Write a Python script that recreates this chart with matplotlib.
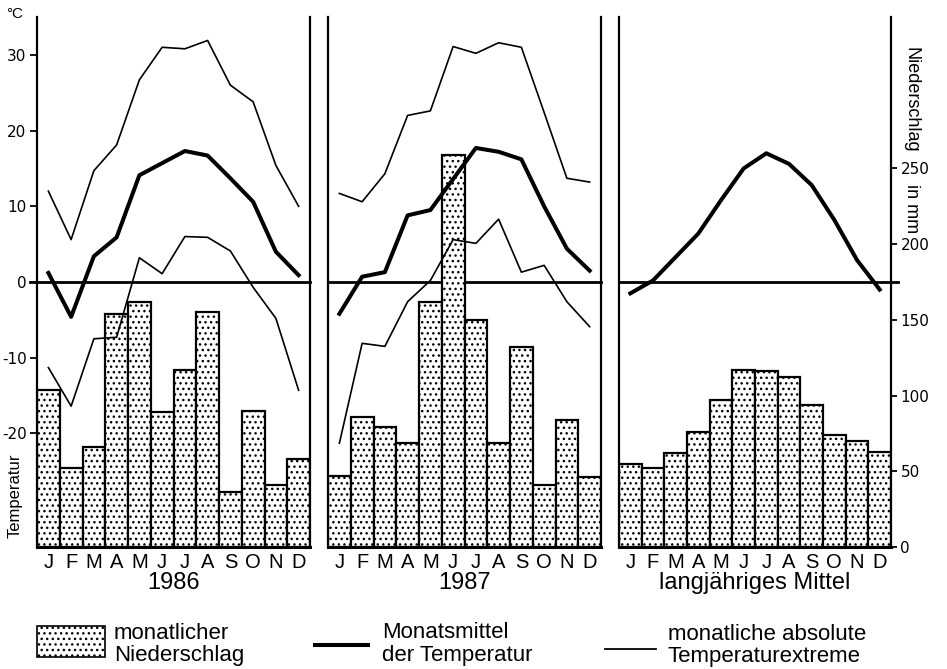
import numpy as np
import matplotlib
matplotlib.use("Agg")
import matplotlib.pyplot as plt
from matplotlib import transforms
from matplotlib.patches import Rectangle
from matplotlib.lines import Line2D

plt.rcParams['font.family'] = ['Liberation Sans', 'DejaVu Sans']
plt.rcParams['hatch.linewidth'] = 1.0

months = ["J", "F", "M", "A", "M", "J", "J", "A", "S", "O", "N", "D"]

# precipitation in mm, temperatures in deg C
rain_1986 = [104, 52, 66, 154, 162, 89, 117, 155, 36, 90, 41, 58]
tmean_1986 = [1.2, -4.6, 3.4, 5.9, 14.1, 15.7, 17.3, 16.7, 13.7, 10.6, 4.0, 0.9]
tmax_1986 = [12.0, 5.6, 14.7, 18.1, 26.7, 31.0, 30.8, 31.9, 26.0, 23.8, 15.4, 10.0]
tmin_1986 = [-11.3, -16.4, -7.5, -7.3, 3.2, 1.1, 6.0, 5.9, 4.1, -0.7, -4.8, -14.3]

rain_1987 = [47, 86, 79, 69, 162, 259, 150, 69, 132, 41, 84, 46]
tmean_1987 = [-4.2, 0.7, 1.3, 8.8, 9.5, 13.6, 17.7, 17.2, 16.2, 10.0, 4.4, 1.5]
tmax_1987 = [11.7, 10.6, 14.3, 22.0, 22.6, 31.1, 30.2, 31.6, 31.0, 22.4, 13.7, 13.2]
tmin_1987 = [-21.3, -8.1, -8.5, -2.6, 0.2, 5.6, 5.1, 8.3, 1.3, 2.2, -2.6, -5.9]

rain_mean = [55, 52, 62, 76, 97, 117, 116, 112, 94, 74, 70, 63]
tmean_mean = [-1.5, 0.2, 3.3, 6.4, 10.8, 15.0, 17.0, 15.6, 12.8, 8.2, 2.9, -1.0]

temp_ticks = [-20, -10, 0, 10, 20, 30]
temp_labels = ["-20", "-10", "0", "10", "20", "30"]
rain_ticks = [0, 50, 100, 150, 200, 250]

W, H = 947, 669


def fx(px):
    return px / W


def fy(py):
    return 1 - py / H


fig = plt.figure(figsize=(W / 100, H / 100), dpi=100)

panels = [
    (37, 273, rain_1986, tmean_1986, tmax_1986, tmin_1986, "1986"),
    (328, 273, rain_1987, tmean_1987, tmax_1987, tmin_1987, "1987"),
    (619, 272, rain_mean, tmean_mean, None, None, "langjähriges Mittel"),
]

x = np.arange(12)
top, bottom = 17, 547

for i, (left, width, rain, tmean, tmax, tmin, title) in enumerate(panels):
    ax = fig.add_axes([fx(left), fy(bottom), width / W, (bottom - top) / H])
    tw = ax.twinx()

    # bars on precipitation scale
    ax.bar(x, rain, width=1.0, facecolor="white", edgecolor="black",
           linewidth=1.6, hatch="...", zorder=2)
    ax.set_ylim(0, 350)
    ax.set_xlim(-0.5, 11.5)
    tw.set_ylim(-35, 35)

    # zero line (under bars)
    trans = transforms.blended_transform_factory(ax.transAxes, tw.transData)
    x0 = -0.026 if i == 0 else 0.0
    x1 = 1.026 if i == 2 else 1.0
    ax.plot([x0, x1], [0, 0], color="black", lw=2.0, transform=trans,
            clip_on=False, zorder=1)

    # temperature lines
    if tmax is not None:
        tw.plot(x, tmax, color="black", lw=1.2)
        tw.plot(x, tmin, color="black", lw=1.2)
    tw.plot(x, tmean, color="black", lw=2.9)

    for a in (ax, tw):
        for s in a.spines.values():
            s.set_visible(False)
    for s in ("left", "right", "bottom"):
        ax.spines[s].set_visible(True)
        ax.spines[s].set_linewidth(1.6)
    ax.spines["bottom"].set_linewidth(2.2)

    ax.set_xticks(x, months)
    ax.tick_params(axis="x", length=0, pad=4.5, labelsize=14.5)
    ax.set_xlabel(title, fontsize=17, labelpad=0)

    if i == 0:
        tw.yaxis.set_ticks_position("left")
        tw.set_yticks(temp_ticks, temp_labels)
        tw.tick_params(axis="y", direction="out", length=5, width=1.3,
                       pad=2.5, labelsize=11, labelfontfamily="DejaVu Sans")
    else:
        tw.set_yticks([])

    if i == 2:
        ax.yaxis.set_ticks_position("right")
        ax.set_yticks(rain_ticks)
        ax.tick_params(axis="y", direction="out", length=4.3, width=1.3,
                       pad=2.5, labelsize=11, labelfontfamily="DejaVu Sans")
    else:
        ax.set_yticks([])

# axis titles
fig.text(fx(15), fy(14), "°C", fontsize=11, ha="center", va="center")
fig.text(fx(15), fy(496), "Temperatur", fontsize=12, rotation=90,
         ha="center", va="center")
fig.text(fx(911), fy(100), "Niederschlag", fontsize=13, rotation=270,
         ha="center", va="center")
fig.text(fx(911), fy(209), "in mm", fontsize=13, rotation=270,
         ha="center", va="center")

# legend
leg_size = 16
fig.add_artist(Rectangle((fx(37), fy(657)), 68 / W, 31 / H,
                         transform=fig.transFigure, facecolor="white",
                         edgecolor="black", lw=1.2, hatch="..."))
fig.text(fx(114), fy(639), "monatlicher", fontsize=leg_size,
         va="baseline", ha="left")
fig.text(fx(114), fy(661), "Niederschlag", fontsize=leg_size,
         va="baseline", ha="left")
fig.add_artist(Line2D([fx(315), fx(368)], [fy(645), fy(645)],
                      transform=fig.transFigure, color="black", lw=2.9))
fig.text(fx(382), fy(638), "Monatsmittel", fontsize=leg_size,
         va="baseline", ha="left")
fig.text(fx(382), fy(661), "der Temperatur", fontsize=leg_size,
         va="baseline", ha="left")
fig.add_artist(Line2D([fx(605), fx(656)], [fy(649), fy(649)],
                      transform=fig.transFigure, color="black", lw=1.3))
fig.text(fx(668), fy(640), "monatliche absolute", fontsize=leg_size,
         va="baseline", ha="left")
fig.text(fx(668), fy(662), "Temperaturextreme", fontsize=leg_size,
         va="baseline", ha="left")

fig.savefig("out.png", dpi=100)
